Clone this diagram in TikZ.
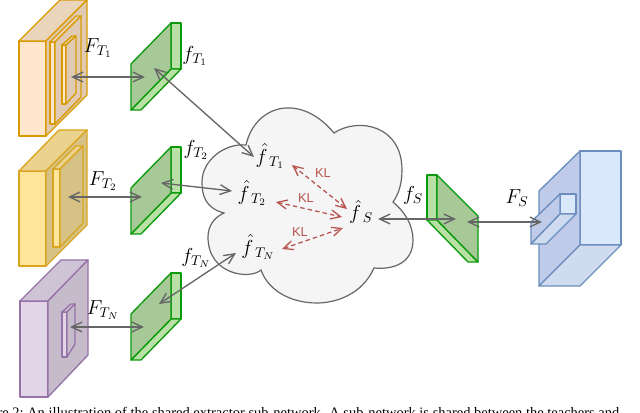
\documentclass[tikz,border=0pt]{standalone}
\usepackage{amsmath,amssymb}
\usepackage{fontspec}
\setsansfont{Liberation Sans}
\setmainfont{Liberation Serif}
\usepackage{xcolor}
\usetikzlibrary{positioning,arrows.meta}
\definecolor{peachline}{HTML}{D79B00}
\definecolor{peachfill}{HTML}{FFE6CC}
\definecolor{goldline}{HTML}{D9A520}
\definecolor{goldfill}{HTML}{FFE599}
\definecolor{plumline}{HTML}{9673A6}
\definecolor{plumfill}{HTML}{E1D5E7}
\definecolor{blueline}{HTML}{6C8EBF}
\definecolor{bluefill}{HTML}{DAE8FC}
\definecolor{greenline}{HTML}{0A9A0A}
\definecolor{greenfill}{HTML}{B9E0A5}
\definecolor{greenface}{HTML}{A6C997}
\definecolor{klred}{HTML}{B85450}
\definecolor{linkgray}{HTML}{666666}
\tikzset{
  face/.style={line width=0.95pt,line join=round},
  link/.style={draw=linkgray,line width=0.95pt,{Straight Barb[length=7.5pt,width=7pt]}-{Straight Barb[length=7.5pt,width=7pt]}},
  linkto/.style={draw=linkgray,line width=0.95pt,-{Straight Barb[length=7.5pt,width=7pt]}},
  kllink/.style={draw=klred,line width=0.9pt,dash pattern=on 3.2pt off 2.2pt,{Straight Barb[length=7pt,width=6.5pt]}-{Straight Barb[length=7pt,width=6.5pt]}},
  kllabel/.style={text=klred,font=\sffamily\fontsize{9.2}{10}\selectfont,inner sep=0pt},
  feat/.style={font=\fontsize{14}{16}\selectfont,inner sep=0pt},
  feathat/.style={font=\fontsize{14}{16}\selectfont,inner sep=0pt}
}
\begin{document}
\begin{tikzpicture}[x=0.025cm,y=-0.025cm]
\useasboundingbox (0,0) rectangle (640,413);
% teacher 1
\draw[face,draw=peachline,fill=peachfill] (19,41) rectangle (46,136);
\draw[face,draw=peachline,fill=peachfill!92!black] (19,41) -- (60,0) -- (87,0) -- (46,41) -- cycle;
\draw[face,draw=peachline,fill=peachfill!88!black] (46,41) -- (87,0) -- (87,95) -- (46,136) -- cycle;
\draw[face,draw=peachline,fill=peachfill] (50,42) rectangle (55,124);
\draw[face,draw=peachline,fill=peachfill!92!black] (50,42) -- (76,16) -- (81,16) -- (55,42) -- cycle;
\draw[face,draw=peachline,fill=peachfill!88!black] (55,42) -- (81,16) -- (81,97) -- (55,124) -- cycle;
\draw[face,draw=peachline,fill=peachfill] (62,45) rectangle (66,104);
\draw[face,draw=peachline,fill=peachfill!92!black] (62,45) -- (72,36) -- (76,36) -- (66,45) -- cycle;
\draw[face,draw=peachline,fill=peachfill!88!black] (66,45) -- (76,36) -- (76,93) -- (66,104) -- cycle;
% teacher 2
\draw[face,draw=goldline,fill=goldfill] (19,171) rectangle (46,266);
\draw[face,draw=goldline,fill=goldfill!92!black] (19,171) -- (59,130) -- (87,130) -- (46,171) -- cycle;
\draw[face,draw=goldline,fill=goldfill!88!black!90!gray] (46,171) -- (87,130) -- (87,225) -- (46,266) -- cycle;
\draw[face,draw=goldline,fill=goldfill] (53,169) rectangle (60,247);
\draw[face,draw=goldline,fill=goldfill!92!black] (53,169) -- (76,146) -- (83,146) -- (60,169) -- cycle;
\draw[face,draw=goldline,fill=goldfill!88!black!90!gray] (60,169) -- (83,146) -- (83,223) -- (60,247) -- cycle;
% teacher N
\draw[face,draw=plumline,fill=plumfill] (20,301) rectangle (48,397);
\draw[face,draw=plumline,fill=plumfill!92!black] (20,301) -- (61,260) -- (88,260) -- (48,301) -- cycle;
\draw[face,draw=plumline,fill=plumfill!88!black] (48,301) -- (88,260) -- (88,355) -- (48,397) -- cycle;
\draw[face,draw=plumline,fill=plumfill] (62,312) rectangle (67,357);
\draw[face,draw=plumline,fill=plumfill!92!black] (62,312) -- (71,304) -- (75,304) -- (67,312) -- cycle;
\draw[face,draw=plumline,fill=plumfill!88!black] (67,312) -- (75,304) -- (75,344) -- (67,357) -- cycle;
% teacher features
\foreach \y in {0,124,250}
{
  \begin{scope}[yshift=-\y*0.025cm]
    \draw[face,draw=greenline,fill=greenfill] (171,23) rectangle (181,69);
    \draw[face,draw=greenline,fill=greenfill] (131,110) -- (171,69) -- (181,69) -- (141,110) -- cycle;
    \draw[face,draw=greenline,fill=greenface] (131,64) -- (171,23) -- (171,69) -- (131,110) -- cycle;
  \end{scope}
}
% student feature
\draw[face,draw=greenline,fill=greenfill] (427,175) rectangle (437,220);
\draw[face,draw=greenline,fill=greenfill] (427,220) -- (437,220) -- (478,262) -- (468,262) -- cycle;
\draw[face,draw=greenline,fill=greenface] (437,175) -- (478,216) -- (478,262) -- (437,220) -- cycle;
% student
\draw[face,draw=blueline,fill=bluefill] (580,151) rectangle (621,245);
\draw[face,draw=blueline,fill=bluefill!92!black!95!blue] (539,191) -- (580,151) -- (580,245) -- (539,286) -- cycle;
\draw[face,draw=blueline,fill=bluefill!95!black] (539,286) -- (580,245) -- (621,245) -- (580,286) -- cycle;
\draw[face,draw=blueline,fill=bluefill] (560,194) rectangle (576,214);
\draw[face,draw=blueline,fill=bluefill!92!black!95!blue] (531,222) -- (560,194) -- (560,214) -- (531,244) -- cycle;
\draw[face,draw=blueline,fill=bluefill!95!black] (531,244) -- (560,214) -- (576,214) -- (546,244) -- cycle;
% shared cloud
\draw[draw=linkgray,line width=0.85pt,fill=black!4] (246,145)
  .. controls (255,105) and (300,92) .. (334,133)
  .. controls (358,117) and (402,125) .. (402,170)
  .. controls (402,185) and (398,195) .. (393,202)
  .. controls (405,212) and (413,225) .. (413,240)
  .. controls (413,262) and (395,270) .. (374,268)
  .. controls (362,295) and (335,303) .. (317,303)
  .. controls (290,303) and (268,290) .. (261,270)
  .. controls (250,280) and (208,275) .. (208,237)
  .. controls (208,225) and (215,217) .. (224,213)
  .. controls (205,208) and (202,195) .. (202,182)
  .. controls (202,160) and (225,143) .. (246,145) -- cycle;
% labels
\node[feat] (Ft1) at (98,48) {$F_{T_1}$};
\node[feat] (Ft2) at (103,181) {$F_{T_2}$};
\node[feat] (Ftn) at (103,310) {$F_{T_N}$};
\node[feat] (Fs) at (517,198) {$F_S$};
\node[feat] (ft1) at (195,56) {$f_{T_1}$};
\node[feat] (ft2) at (196,150) {$f_{T_2}$};
\node[feat] (ftn) at (196,258) {$f_{T_N}$};
\node[feat] (fs) at (413,195) {$f_S$};
\node[feathat] (ht1) at (270,156) {$\hat{f}_{\;T_1}$};
\node[feathat] (ht2) at (252,193) {$\hat{f}_{\;T_2}$};
\node[feathat] (htn) at (258,247) {$\hat{f}_{\;T_N}$};
\node[feathat] (hs) at (361,212) {$\hat{f}_{\;S}$};
\node[kllabel] (kl1) at (323,173) {KL};
\node[kllabel] (kl2) at (306,198) {KL};
\node[kllabel] (kl3) at (300,232) {KL};
% link ends
\coordinate (t1a) at (71,77);
\coordinate (t1b) at (145,77);
\coordinate (t1c) at (154,68);
\coordinate (t1d) at (254,157);
\coordinate (t2a) at (68,197);
\coordinate (t2b) at (142,197);
\coordinate (t2c) at (161,183);
\coordinate (t2d) at (232,191);
\coordinate (tna) at (70,327);
\coordinate (tnb) at (144,327);
\coordinate (tnc) at (159,304);
\coordinate (tnd) at (236,253);
\coordinate (sa) at (378,219);
\coordinate (sb) at (456,219);
\coordinate (sc) at (467,222);
\coordinate (sd) at (542,222);
\coordinate (k1a) at (292,165);
\coordinate (k1b) at (347,209);
\coordinate (k2a) at (276,202);
\coordinate (k2b) at (342,217);
\coordinate (k3a) at (282,249);
\coordinate (k3b) at (343,228);
% links
\foreach \a/\b in {t1a/t1b,t1c/t1d,t2a/t2b,t2c/t2d,tna/tnb,tnc/tnd,sa/sb,sc/sd}
  \draw[link] (\a) -- (\b);
\foreach \a/\b in {k1a/k1b,k2a/k2b,k3a/k3b}
  \draw[kllink] (\a) -- (\b);
% caption, cut by the page
\begin{scope}
\clip (0,0) rectangle (640,413);
\node[anchor=base east,inner sep=0pt,font=\fontsize{10.3}{12}\selectfont] (cap0) at (24,417) {Figure 2:};
\node[anchor=base west,inner sep=0pt,font=\fontsize{10.3}{12}\selectfont] (cap) at (27,417) {An illustration of the shared extractor sub-network. A sub-network is shared between the teachers and};
\end{scope}
\end{tikzpicture}
\end{document}
